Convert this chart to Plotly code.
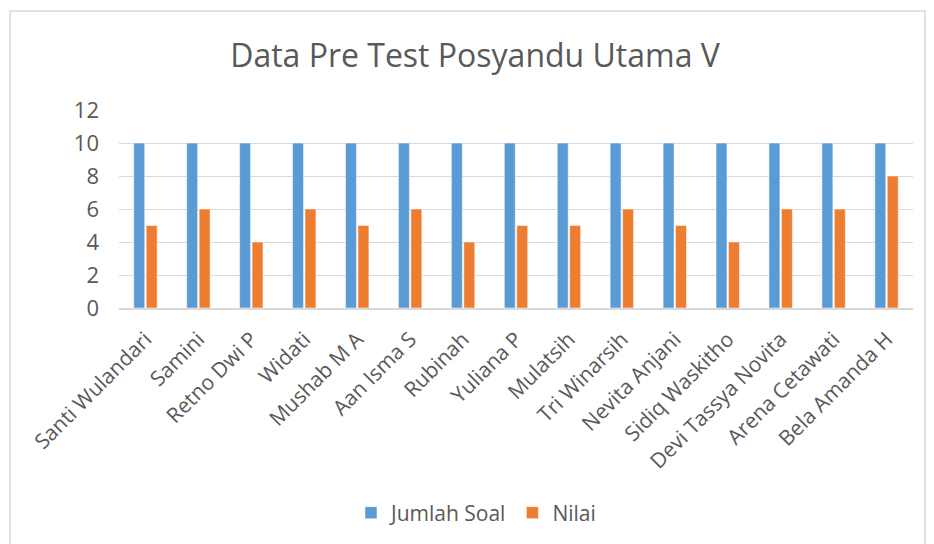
import plotly.graph_objects as go

names = ["Santi Wulandari", "Samini", "Retno Dwi P", "Widati", "Mushab M A", "Aan Isma S",
         "Rubinah", "Yuliana P", "Mulatsih", "Tri Winarsih", "Nevita Anjani", "Sidiq Waskitho",
         "Devi Tassya Novita", "Arena Cetawati", "Bela Amanda H"]
jumlah_soal = [10, 10, 10, 10, 10, 10, 10, 10, 10, 10, 10, 10, 10, 10, 10]
nilai = [5, 6, 4, 6, 5, 6, 4, 5, 5, 6, 5, 4, 6, 6, 8]
y_ticks = [0, 2, 4, 6, 8, 10, 12]

# page body has an 8px margin; work in screenshot pixels and shift
OFF = 8
W, H = 934 - OFF, 544 - OFF
L, R, T, B = 119 - OFF, 21, 110 - OFF, 236
pw, ph = W - L - R, H - T - B

def px_x(p):
    return (p - OFF - L) / pw

def px_y(p):
    return (H - B - (p - OFF)) / ph

font = "Open Sans"
grey = "#595959"

fig = go.Figure()
fig.add_trace(go.Bar(x=names, y=jumlah_soal, name="Jumlah Soal",
                     marker=dict(color="#5B9BD5", line=dict(color="#FFFFFF", width=0.5))))
fig.add_trace(go.Bar(x=names, y=nilai, name="Nilai",
                     marker=dict(color="#ED7D31", line=dict(color="#FFFFFF", width=0.5))))

fig.update_layout(
    width=W, height=H,
    margin=dict(l=L, r=R, t=T, b=B, autoexpand=False),
    paper_bgcolor="white", plot_bgcolor="white",
    barmode="group", bargap=0.53, bargroupgap=0.12,
    font=dict(family=font, color=grey, size=20),
    title=dict(text="Data Pre Test Posyandu Utama V", x=(475 - OFF) / W, y=1 - (56 - OFF) / H,
               xref="container", yref="container", xanchor="center", yanchor="middle",
               font=dict(family=font, size=32, color=grey)),
    showlegend=True,
    legend=dict(orientation="h", x=px_x(476), y=px_y(513), xanchor="center", yanchor="middle",
                font=dict(family=font, size=21, color=grey), itemwidth=30),
    shapes=[dict(type="rect", xref="paper", yref="paper",
                 x0=px_x(10), x1=px_x(925), y0=px_y(560), y1=px_y(11),
                 line=dict(color="#D9D9D9", width=1.5), fillcolor="rgba(0,0,0,0)", layer="below")],
)
fig.update_xaxes(tickangle=-45, tickfont=dict(family=font, size=21, color=grey), automargin=False,
                 ticklabelstandoff=9,
                 showline=True, linecolor="#D9D9D9", linewidth=1.5, ticks="", showgrid=False)
fig.update_yaxes(range=[0, 12], tickvals=y_ticks, showgrid=True, gridcolor="#D9D9D9", gridwidth=1,
                 zeroline=False, showline=False, ticks="", ticklabelstandoff=19, automargin=False,
                 tickfont=dict(family=font, size=22, color=grey))

fig.write_html("out.html")
